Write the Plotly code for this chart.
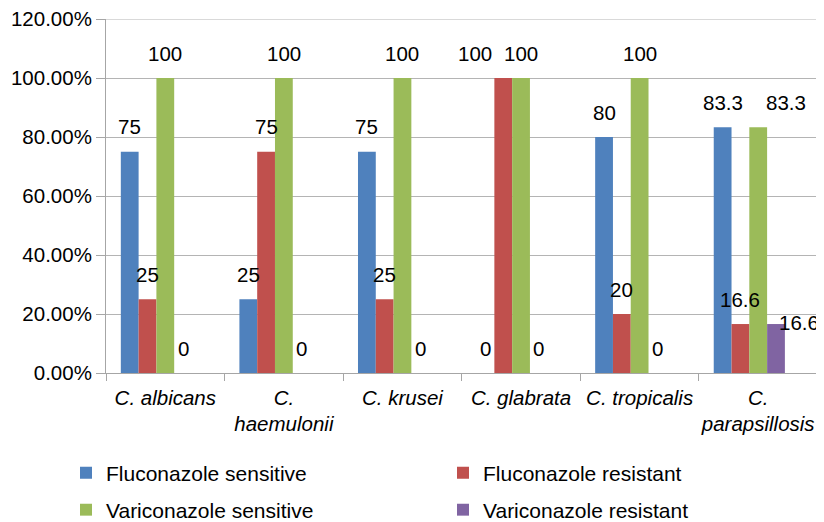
import plotly.graph_objects as go

categories = ["C. albicans", "C.<br>haemulonii", "C. krusei", "C. glabrata", "C. tropicalis", "C.<br>parapsillosis"]
series_names = ["Fluconazole sensitive", "Fluconazole resistant", "Variconazole sensitive", "Variconazole resistant"]
fluconazole_sensitive = [75, 25, 75, 0, 80, 83.3]
fluconazole_resistant = [25, 75, 25, 100, 20, 16.6]
variconazole_sensitive = [100, 100, 100, 100, 100, 83.3]
variconazole_resistant = [0, 0, 0, 0, 0, 16.6]
series_values = [fluconazole_sensitive, fluconazole_resistant, variconazole_sensitive, variconazole_resistant]
y_tick_values = [0, 0.2, 0.4, 0.6, 0.8, 1.0, 1.2]

colors = ["#4F81BD", "#C0504D", "#9BBB59", "#8064A2"]
bar_width = 0.15
offsets = [-0.375, -0.225, -0.075, 0.075]
legend_ids = ["legend", "legend2", "legend3", "legend4"]
FONT = "Liberation Sans, Arial, sans-serif"
W, H = 824, 522

# label shifts (style only): (series index, category index) -> (xshift, yshift)
label_shift = {(1, 3): (-28, 25), (2, 5): (28, 25), (3, 5): (23, 2)}

fig = go.Figure()
annotations = []
for j, (name, vals) in enumerate(zip(series_names, series_values)):
    fig.add_trace(go.Bar(
        x=categories, y=[v / 100 for v in vals], name=name,
        marker=dict(color=colors[j], line=dict(width=0)),
        width=bar_width, offset=offsets[j], legend=legend_ids[j],
        showlegend=True,
    ))
    for i, v in enumerate(vals):
        xs, ys = label_shift.get((j, i), (0, 25))
        annotations.append(dict(
            x=i + offsets[j] + bar_width / 2, y=v / 100, xref="x", yref="y",
            text=f"{v:g}", showarrow=False, xshift=xs, yshift=ys,
            font=dict(size=20.5, color="#000000", family=FONT),
        ))

axis_col = "#A6A6A6"
grid_col = "#B4B4B4"

# top gridline at the end of the value range
fig.add_shape(type="line", xref="paper", yref="y", x0=0, x1=1,
              y0=y_tick_values[-1], y1=y_tick_values[-1],
              line=dict(color=grid_col, width=1), layer="below")


def legend_at(px, py):
    return dict(
        orientation="h", xref="container", yref="container",
        x=px / W, y=1 - py / H, yanchor="middle", xanchor="left",
        font=dict(size=21, family=FONT), bgcolor="rgba(0,0,0,0)",
    )


fig.update_layout(
    width=W, height=H,
    margin=dict(l=98, r=11, t=11, b=157, autoexpand=False),
    paper_bgcolor="white", plot_bgcolor="white",
    font=dict(family=FONT, color="#000000"),
    barmode="group",
    showlegend=True,
    annotations=annotations,
    xaxis=dict(
        type="category", tickson="boundaries", ticks="outside", ticklen=7,
        tickcolor=axis_col, showline=True, linecolor=axis_col, linewidth=1,
        showgrid=False, tickfont=dict(size=20.5, style="italic", family=FONT),
        tickangle=0, automargin=False, ticklabelstandoff=6,
        ticklabeloverflow="allow",
    ),
    yaxis=dict(
        range=[0, 1.2], tickvals=y_tick_values, tickformat=".2%",
        showgrid=True, gridcolor=grid_col, gridwidth=1, zeroline=False,
        showline=True, linecolor=axis_col, ticks="outside", ticklen=9,
        tickcolor=axis_col, tickfont=dict(size=20.5, family=FONT),
        automargin=False, ticklabeloverflow="allow",
    ),
    legend=legend_at(58, 465),
    legend2=legend_at(435, 465),
    legend3=legend_at(58, 502),
    legend4=legend_at(435, 502),
)

fig.write_html("out.html")
